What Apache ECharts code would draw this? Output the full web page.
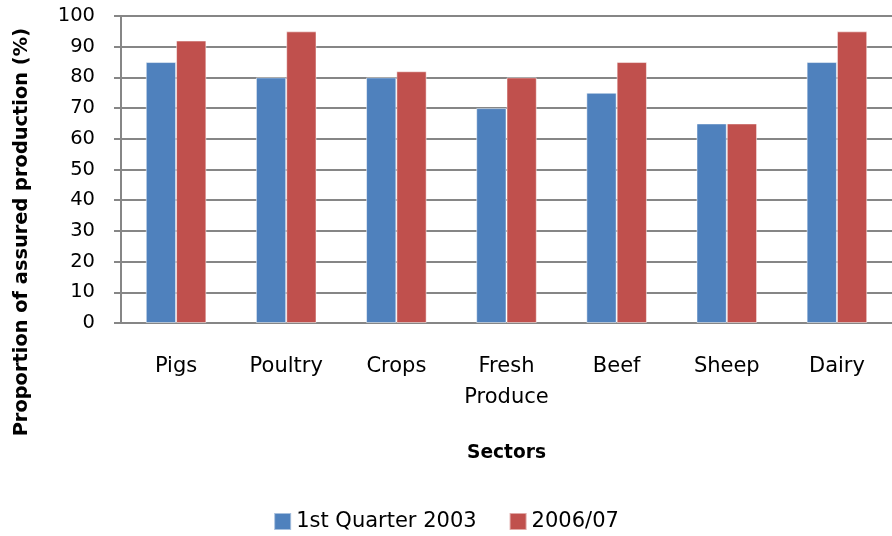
<!DOCTYPE html>
<html><head><meta charset="utf-8">
<script src="https://cdn.jsdelivr.net/npm/echarts@6/dist/echarts.min.js"></script>
<style>html,body{margin:0;padding:0;background:#fff}#c{width:892px;height:536px}</style>
</head><body><div id="c"></div>
<script>
const categories = ['Pigs', 'Poultry', 'Crops', 'Fresh\nProduce', 'Beef', 'Sheep', 'Dairy'];
const series2003 = [85, 80, 80, 70, 75, 65, 85];
const series2006 = [92, 95, 82, 80, 85, 65, 95];
const seriesNames = ['1st Quarter 2003', '2006/07'];
const yTicks = {min: 0, max: 100, interval: 10};
const axisTitleX = 'Sectors';
const axisTitleY = 'Proportion of assured production (%)';

const F = 'DejaVu Sans';
const chart = echarts.init(document.getElementById('c'), null, {renderer: 'canvas'});
chart.setOption({
  animation: false,
  color: ['#4F81BD', '#C0504D'],
  grid: {left: 121, top: 16, width: 778, height: 307, containLabel: false},
  legend: {
    data: seriesNames, top: 506, left: 'center', itemWidth: 17, itemHeight: 17, itemGap: 32,
    icon: 'rect', textStyle: {fontFamily: F, fontSize: 21, color: '#000'}
  },
  xAxis: {
    type: 'category', data: categories,
    axisLine: {lineStyle: {color: '#868686', width: 2}},
    axisTick: {show: false},
    axisLabel: {fontFamily: F, fontSize: 21, color: '#000', margin: 28, lineHeight: 31, interval: 0},
    name: axisTitleX, nameLocation: 'middle', nameGap: 121,
    nameTextStyle: {fontFamily: F, fontSize: 18.6, fontWeight: 'bold', color: '#000'}
  },
  yAxis: {
    type: 'value', min: yTicks.min, max: yTicks.max, interval: yTicks.interval,
    axisLine: {show: true, lineStyle: {color: '#868686', width: 2}},
    axisTick: {show: true, length: 7, lineStyle: {color: '#868686', width: 2}},
    splitLine: {lineStyle: {color: '#868686', width: 2}},
    axisLabel: {fontFamily: F, fontSize: 19.5, color: '#000', margin: 26}
  },
  graphic: [{
    type: 'text', left: 12, top: 28, rotation: Math.PI / 2,
    style: {text: axisTitleY, fontFamily: F, fontSize: 19.4, fontWeight: 'bold', fill: '#000'}
  }],
  series: [
    {name: seriesNames[0], type: 'bar', data: series2003, barGap: '0%', barCategoryGap: '45%',
     itemStyle: {borderColor: 'rgba(255,255,255,0.5)', borderWidth: 1}},
    {name: seriesNames[1], type: 'bar', data: series2006, barGap: '0%', barCategoryGap: '45%',
     itemStyle: {borderColor: 'rgba(255,255,255,0.5)', borderWidth: 1}}
  ]
});
</script></body></html>
